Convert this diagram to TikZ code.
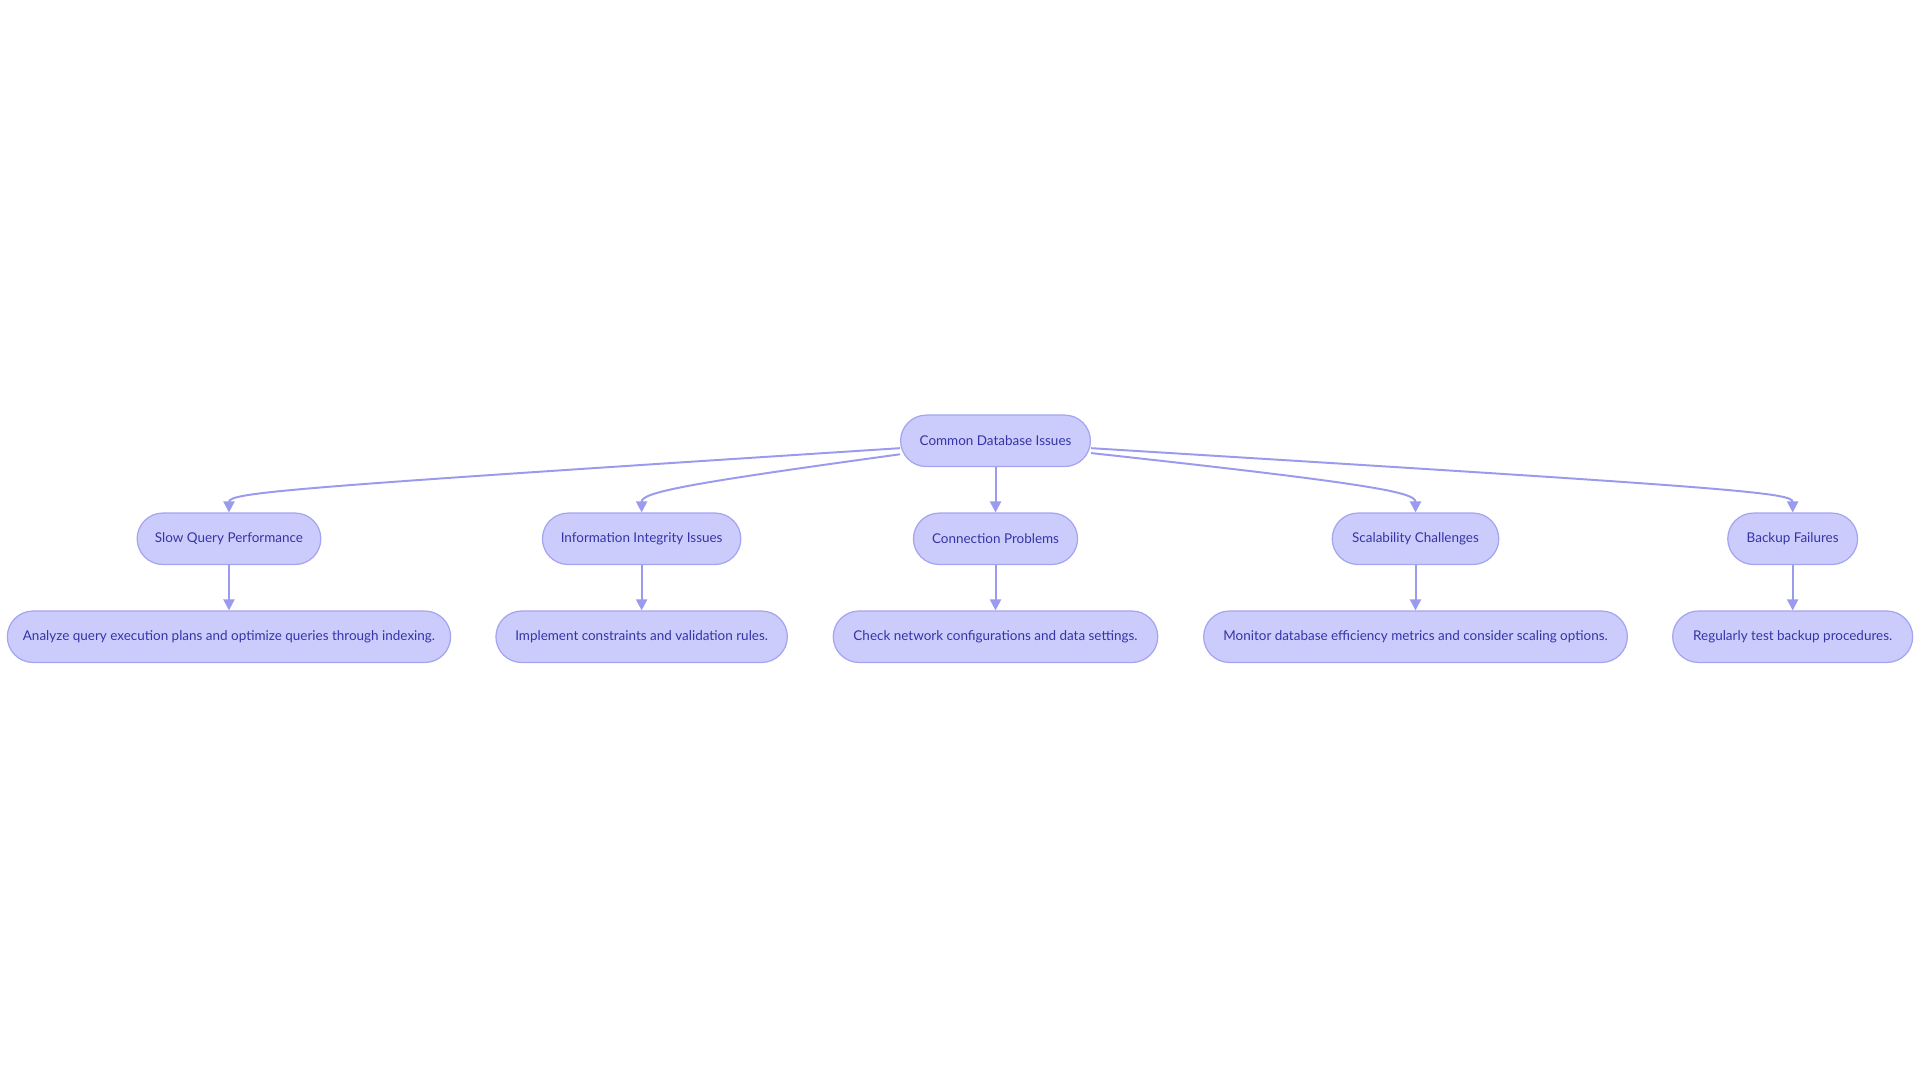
\documentclass[tikz,border=0pt]{standalone}
\usepackage{fontspec}
\setmainfont{Lato}
\usetikzlibrary{calc,arrows.meta}
\definecolor{nfill}{HTML}{CCCCFC}
\definecolor{nline}{HTML}{A4A4F0}
\definecolor{ntext}{HTML}{3434A8}
\definecolor{eline}{HTML}{9A9AEE}
\begin{document}
\begin{tikzpicture}[x=0.5pt,y=-0.5pt,
  nd/.style={draw=nline,fill=nfill,text=ntext,rounded corners=10.5pt,minimum height=21pt,inner sep=0pt,font=\fontsize{5.5}{6.5}\selectfont,line width=0.5pt},
  ed/.style={draw=eline,line width=0.8pt,-{Triangle[width=4.5pt,length=4.5pt]}}]
\useasboundingbox[fill=white] (0,0) rectangle (1568,884);
\node[nd,minimum width=77.5pt] (root) at (813,360) {Common Database Issues};
\node[nd,minimum width=75pt] (a1) at (187,440) {Slow Query Performance};
\node[nd,minimum width=81pt] (b1) at (524,440) {Information Integrity Issues};
\node[nd,minimum width=67pt] (c1) at (813,440) {Connection Problems};
\node[nd,minimum width=68pt] (d1) at (1156,440) {Scalability Challenges};
\node[nd,minimum width=53pt] (e1) at (1464,440) {Backup Failures};
\node[nd,minimum width=181pt] (a2) at (187,520) {Analyze query execution plans and optimize queries through indexing.};
\node[nd,minimum width=119pt] (b2) at (524,520) {Implement constraints and validation rules.};
\node[nd,minimum width=132.5pt] (c2) at (813,520) {Check network configurations and data settings.};
\node[nd,minimum width=173pt] (d2) at (1156,520) {Monitor database efficiency metrics and consider scaling options.};
\node[nd,minimum width=98pt] (e2) at (1464,520) {Regularly test backup procedures.};
\draw[ed] ($(root.west)+(0,6)$) .. controls (240,398) and (187,402) .. (a1.north);
\draw[ed] ($(root.west)+(0,11)$) .. controls (560,395) and (524,402) .. (b1.north);
\draw[ed] (root.south) -- (c1.north);
\draw[ed] ($(root.east)+(0,10)$) .. controls (1120,395) and (1156,402) .. (d1.north);
\draw[ed] ($(root.east)+(0,6)$) .. controls (1410,398) and (1464,402) .. (e1.north);
\foreach \n in {a,b,c,d,e} \draw[ed] (\n1.south) -- (\n2.north);
\end{tikzpicture}
\end{document}
